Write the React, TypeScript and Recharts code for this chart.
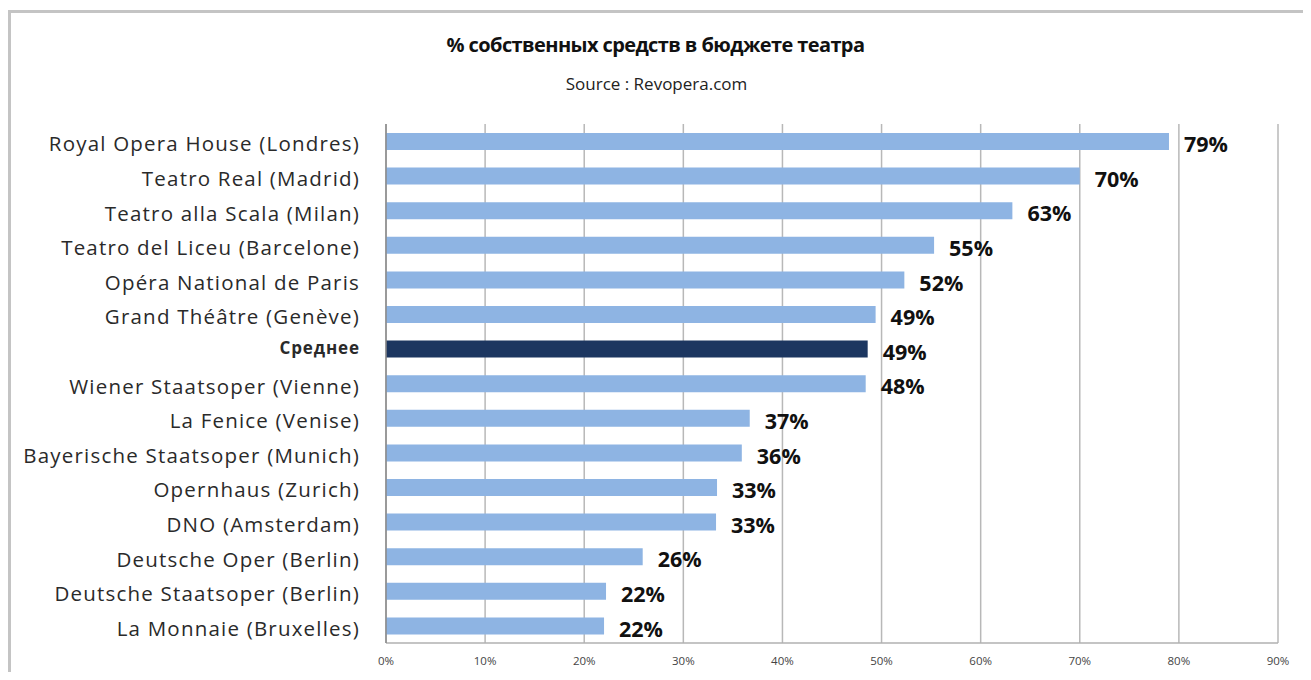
import React from "react";
import { BarChart, Bar, XAxis, YAxis, CartesianGrid, LabelList, Cell } from "recharts";

const categories = [
  "Royal Opera House (Londres)",
  "Teatro Real (Madrid)",
  "Teatro alla Scala (Milan)",
  "Teatro del Liceu (Barcelone)",
  "Opéra National de Paris",
  "Grand Théâtre (Genève)",
  "Среднее",
  "Wiener Staatsoper (Vienne)",
  "La Fenice (Venise)",
  "Bayerische Staatsoper (Munich)",
  "Opernhaus (Zurich)",
  "DNO (Amsterdam)",
  "Deutsche Oper (Berlin)",
  "Deutsche Staatsoper (Berlin)",
  "La Monnaie (Bruxelles)",
];
const values = [79, 70, 63.2, 55.3, 52.3, 49.4, 48.6, 48.4, 36.7, 35.9, 33.4, 33.3, 25.9, 22.2, 22.0];
const valueLabels = ["79%", "70%", "63%", "55%", "52%", "49%", "49%", "48%", "37%", "36%", "33%", "33%", "26%", "22%", "22%"];
const xTicks = [0, 10, 20, 30, 40, 50, 60, 70, 80, 90];
const averageName = "Среднее";

const data = categories.map((name, i) => ({ name, value: values[i], label: valueLabels[i] }));

const FONT = "'Open Sans', 'DejaVu Sans', sans-serif";

const YTick = (props: any) => {
  const { x, y, payload } = props;
  const isAvg = payload.value === averageName;
  return (
    <text
      x={x}
      y={y}
      dy={isAvg ? -1 : 2}
      textAnchor="end"
      dominantBaseline="central"
      fontFamily={FONT}
      fontSize={isAvg ? 17 : 20.5}
      fontWeight={isAvg ? 700 : 400}
      letterSpacing={isAvg ? 0.9 : 1.2}
      fill="#2a2a2a"
    >
      {payload.value}
    </text>
  );
};

const XTick = (props: any) => {
  const { x, y, payload } = props;
  return (
    <text x={x} y={y} textAnchor="middle" dominantBaseline="central" fontFamily={FONT} fontSize={11.5} fill="#444">
      {`${payload.value}%`}
    </text>
  );
};

export default function App() {
  return (
    <div style={{ position: "relative", width: 1295, height: 664, overflow: "hidden", background: "#fff" }}>
      <div
        style={{
          position: "absolute",
          left: 0,
          top: 2,
          width: 1400,
          height: 800,
          borderTop: "3px solid #c4c4c4",
          borderLeft: "3px solid #c4c4c4",
          boxSizing: "border-box",
        }}
      />
      <div
        style={{
          position: "absolute",
          left: 0,
          width: 1295,
          top: 23,
          textAlign: "center",
          fontFamily: FONT,
          fontWeight: 700,
          fontSize: 20,
          color: "#111",
          letterSpacing: -0.6,
        }}
      >
        % собственных средств в бюджете театра
      </div>
      <div
        style={{
          position: "absolute",
          left: 0,
          width: 1295,
          top: 64,
          textAlign: "center",
          fontFamily: FONT,
          fontSize: 17,
          color: "#222",
          transform: "translateX(1px)",
        }}
      >
        Source : Revopera.com
      </div>
      <div style={{ position: "absolute", left: 0, top: 0 }}>
        <BarChart
          width={1295}
          height={664}
          data={data}
          layout="vertical"
          margin={{ top: 116, right: 25, bottom: 4, left: 0 }}
          barSize={17}
        >
          <CartesianGrid horizontal={false} vertical={true} stroke="#b8b8b8" strokeWidth={1.5} />
          <XAxis
            type="number"
            domain={[0, 90]}
            ticks={xTicks}
            interval={0}
            tick={<XTick />}
            tickLine={false}
            axisLine={{ stroke: "#b0b0b0", strokeWidth: 1.5 }}
            tickSize={0}
            tickMargin={17}
            height={25}
          />
          <YAxis
            type="category"
            dataKey="name"
            width={378}
            tick={<YTick />}
            tickLine={false}
            axisLine={{ stroke: "#8a8a8a", strokeWidth: 1.5 }}
            tickSize={0}
            tickMargin={26}
            interval={0}
          />
          <Bar dataKey="value" isAnimationActive={false}>
            {data.map((d, i) => (
              <Cell key={i} fill={d.name === averageName ? "#1c3660" : "#8eb4e3"} />
            ))}
            <LabelList
              dataKey="label"
              position="right"
              offset={15}
              fontFamily={FONT}
              fontSize={21.5}
              fontWeight={700}
              fill="#111"
              dy={3}
            />
          </Bar>
        </BarChart>
      </div>
    </div>
  );
}
